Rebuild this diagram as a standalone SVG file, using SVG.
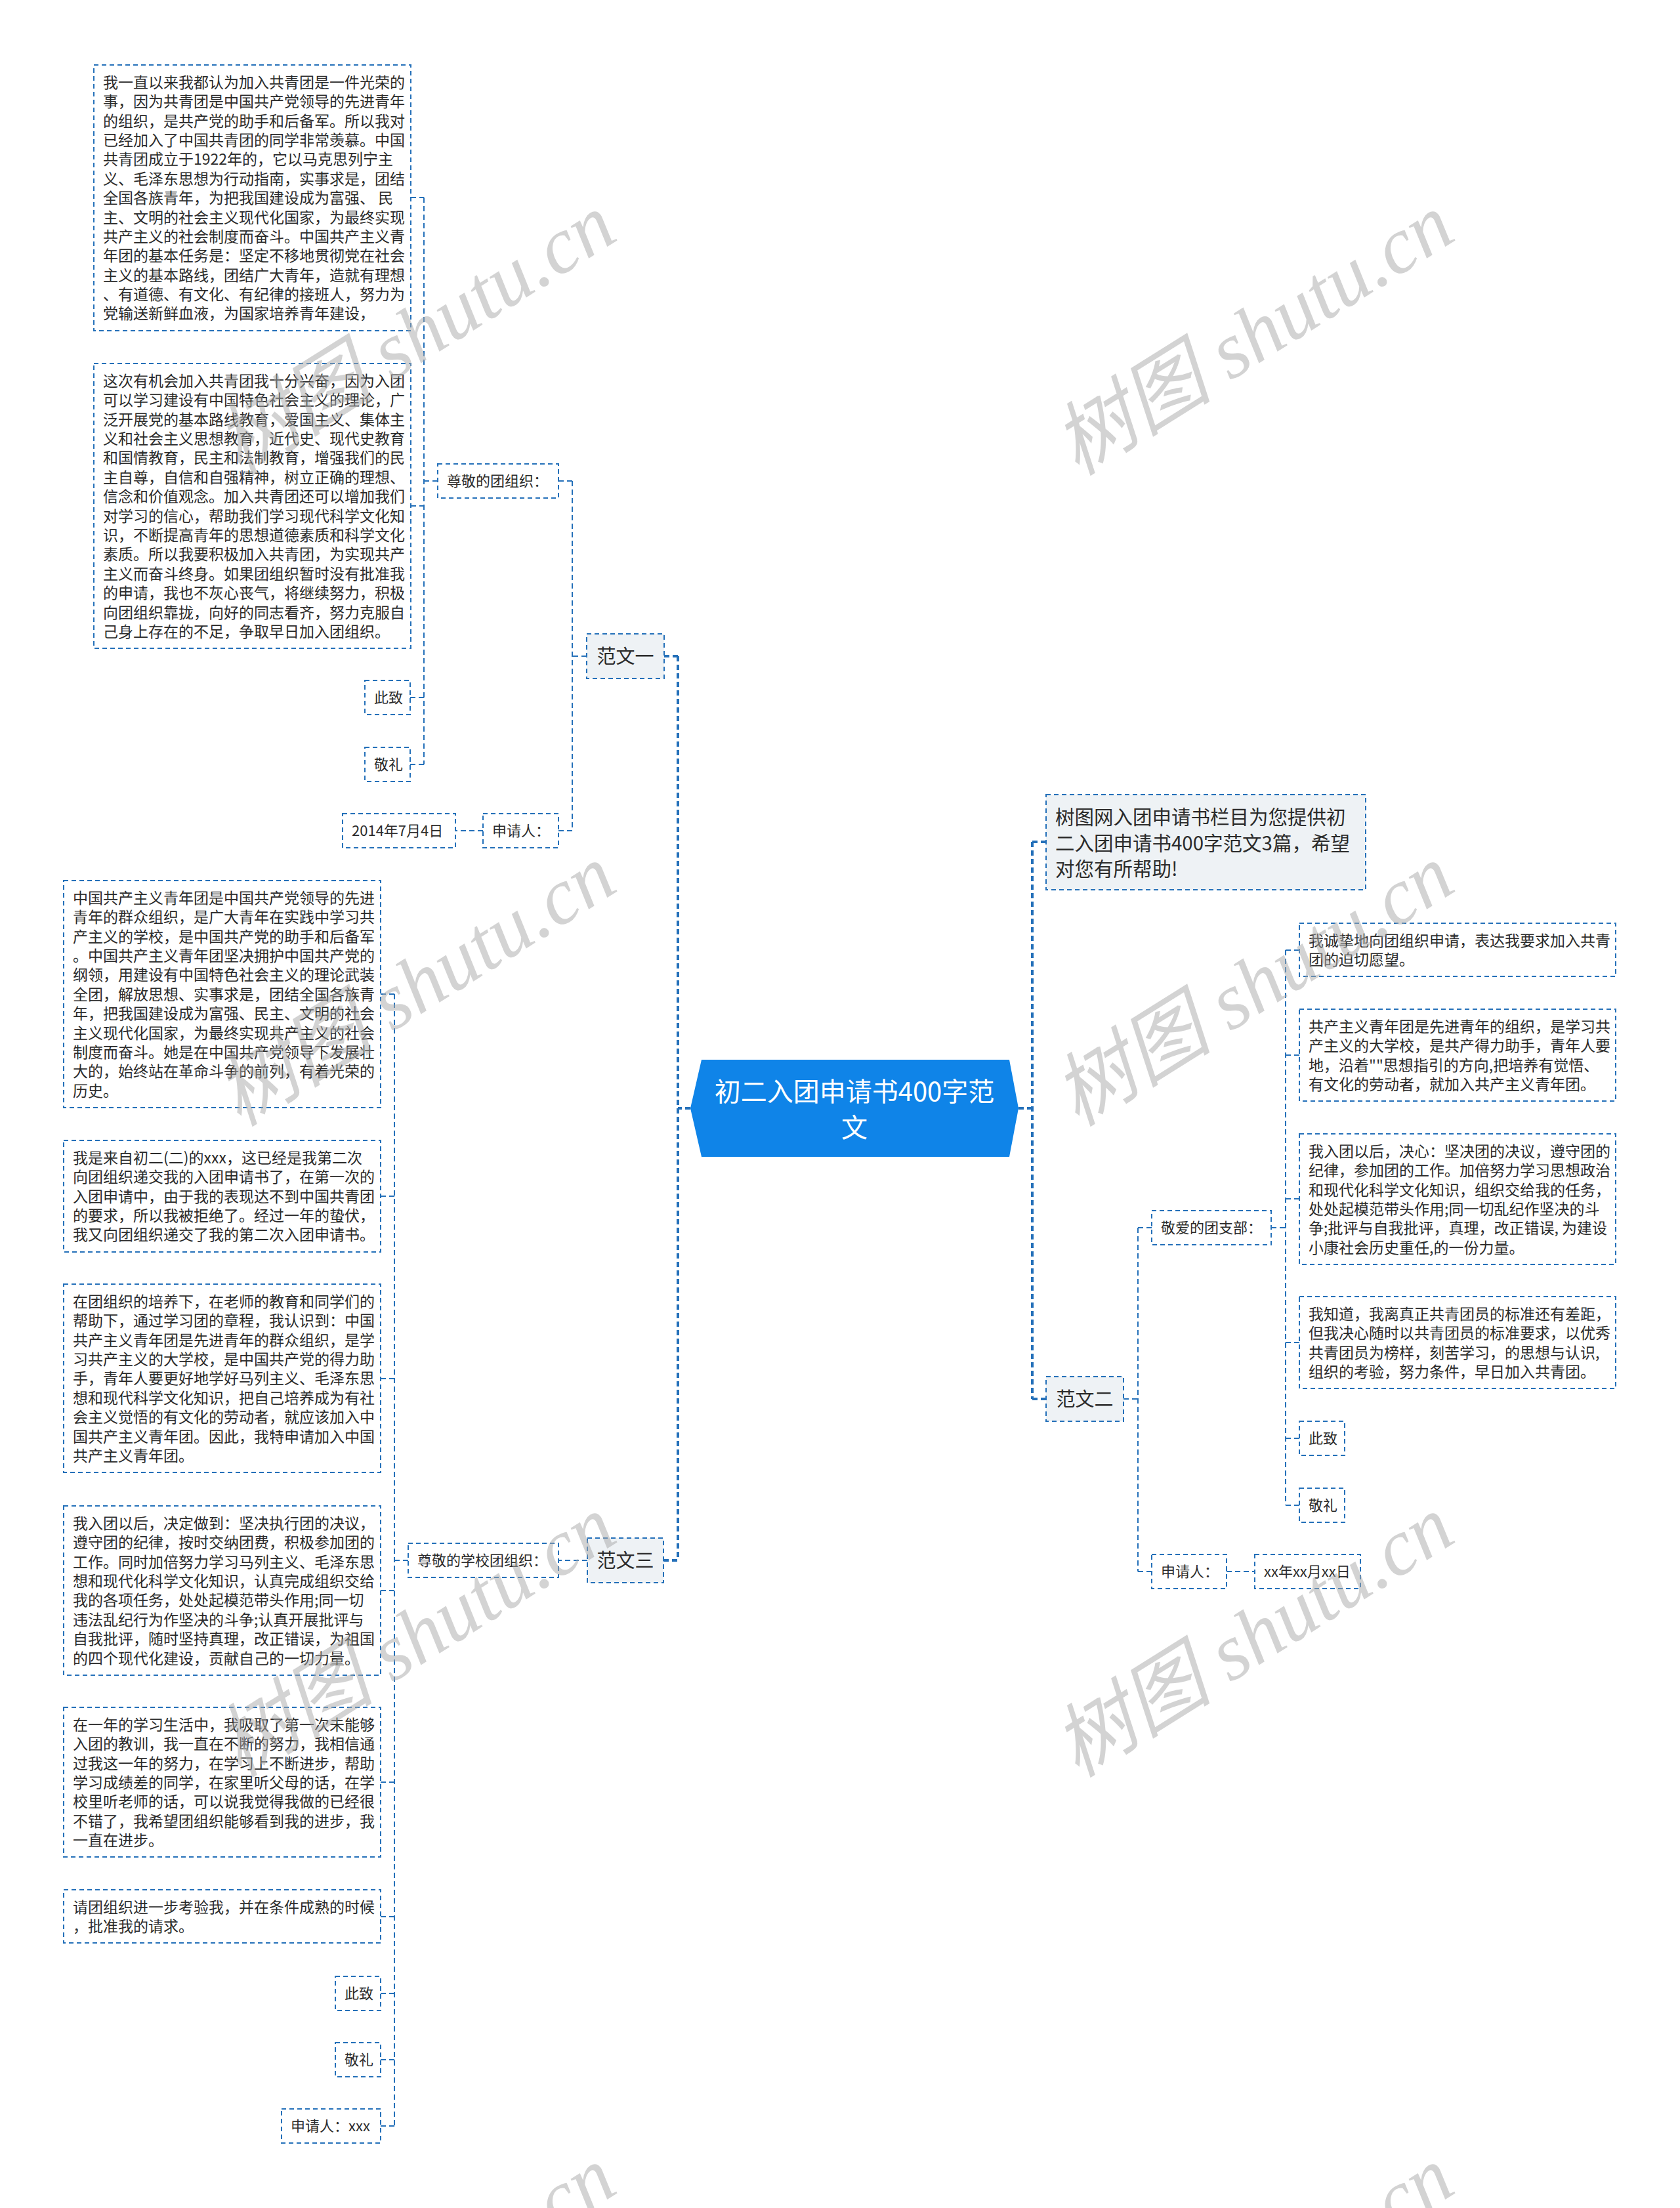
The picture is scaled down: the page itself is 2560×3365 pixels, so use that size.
<svg xmlns="http://www.w3.org/2000/svg" width="2560" height="3365" viewBox="0 0 2560 3365">
<style>
.bx{fill:none;stroke:#2470b9;stroke-width:2;stroke-dasharray:7 5}
.sb{fill:#eef2f5;stroke:#2470b9;stroke-width:2;stroke-dasharray:7 5}
.t{font-family:"Noto Sans CJK SC","Noto Sans",sans-serif;font-size:23px;fill:#2b2b2b}
.s{font-size:22px}
.m{font-size:29px}
.c{font-family:"Noto Sans CJK SC","Noto Sans",sans-serif;font-size:40px;fill:#ffffff;text-anchor:middle}
.ln{fill:none;stroke:#2470b9;stroke-width:2;stroke-dasharray:8 5}
.mn{fill:none;stroke:#2470b9;stroke-width:4;stroke-dasharray:8 5}
.wm{font-family:"Liberation Serif","Noto Sans CJK SC",serif;font-style:italic;font-size:122px;fill:#a8a8a8;opacity:0.5;text-anchor:middle}
</style>
<rect width="2560" height="3365" fill="#ffffff"/>
<g id="connectors">
<path class="mn" d="M1033 1000V2378M1052 1689H1033M1012 1000H1033M1011 2378H1033"/>
<path class="mn" d="M1573 1283V2132M1552 1689H1573M1573 1283H1594M1573 2132H1594"/>
<path class="ln" d="M872 733V1266M894 1000H872M851 733H872M851 1266H872"/>
<path class="ln" d="M646 301V1165M667 733H646M626 301H646M626 771H646M625 1063H646M625 1165H646"/>
<path class="ln" d="M736 1266H694"/>
<path class="ln" d="M895 2378H851"/>
<path class="ln" d="M601 1515V3240M622 2378H601M580 1515H601M580 1823H601M580 2101H601M580 2424H601M580 2716H601M580 2921H601M580 3038H601M580 3139H601M580 3240H601"/>
<path class="ln" d="M1734 1871V2395M1712 2132H1734M1755 1871H1734M1755 2395H1734"/>
<path class="ln" d="M1959 1448V2294M1937 1871H1959M1980 1448H1959M1980 1608H1959M1980 1827H1959M1980 2046H1959M1980 2192H1959M1980 2294H1959"/>
<path class="ln" d="M1869 2395H1912"/>
</g>
<g id="center">
<polygon points="1069,1615 1538,1615 1552,1689 1538,1763 1069,1763 1052,1689" fill="#0f84e8"/>
<text class="c"><tspan x="1302" y="1678">初二入团申请书400字范</tspan><tspan x="1302" y="1733">文</tspan></text>
</g>
<g id="intro">
<rect class="sb" x="1594" y="1211" width="487" height="145"/>
<text class="t" style="font-size:29.5px"><tspan x="1608" y="1256">树图网入团申请书栏目为您提供初</tspan><tspan x="1608" y="1296">二入团申请书400字范文3篇，希望</tspan><tspan x="1608" y="1335">对您有所帮助!</tspan></text>
</g>
<g id="fanwen1">
<rect class="sb" x="894" y="966" width="118" height="68"/>
<text class="t m" x="953" y="1011" text-anchor="middle">范文一</text>
</g>
<g id="zunjing1">
<rect class="bx" x="667" y="707" width="184" height="52"/>
<text class="t s" x="681" y="741">尊敬的团组织：</text>
</g>
<g id="f1p1">
<rect class="bx" x="143" y="99" width="483" height="405"/>
<text class="t"><tspan x="157" y="133.7">我一直以来我都认为加入共青团是一件光荣的</tspan><tspan x="157" dy="29.4">事，因为共青团是中国共产党领导的先进青年</tspan><tspan x="157" dy="29.4">的组织，是共产党的助手和后备军。所以我对</tspan><tspan x="157" dy="29.4">已经加入了中国共青团的同学非常羡慕。中国</tspan><tspan x="157" dy="29.4">共青团成立于1922年的，它以马克思列宁主</tspan><tspan x="157" dy="29.4">义、毛泽东思想为行动指南，实事求是，团结</tspan><tspan x="157" dy="29.4">全国各族青年，为把我国建设成为富强、 民</tspan><tspan x="157" dy="29.4">主、文明的社会主义现代化国家，为最终实现</tspan><tspan x="157" dy="29.4">共产主义的社会制度而奋斗。中国共产主义青</tspan><tspan x="157" dy="29.4">年团的基本任务是：坚定不移地贯彻党在社会</tspan><tspan x="157" dy="29.4">主义的基本路线，团结广大青年，造就有理想</tspan><tspan x="157" dy="29.4">、有道德、有文化、有纪律的接班人，努力为</tspan><tspan x="157" dy="29.4">党输送新鲜血液，为国家培养青年建设，</tspan></text>
</g>
<g id="f1p2">
<rect class="bx" x="143" y="554" width="483" height="434"/>
<text class="t"><tspan x="157" y="588.7">这次有机会加入共青团我十分兴奋，因为入团</tspan><tspan x="157" dy="29.4">可以学习建设有中国特色社会主义的理论，广</tspan><tspan x="157" dy="29.4">泛开展党的基本路线教育，爱国主义、集体主</tspan><tspan x="157" dy="29.4">义和社会主义思想教育，近代史、现代史教育</tspan><tspan x="157" dy="29.4">和国情教育，民主和法制教育，增强我们的民</tspan><tspan x="157" dy="29.4">主自尊，自信和自强精神，树立正确的理想、</tspan><tspan x="157" dy="29.4">信念和价值观念。加入共青团还可以增加我们</tspan><tspan x="157" dy="29.4">对学习的信心，帮助我们学习现代科学文化知</tspan><tspan x="157" dy="29.4">识，不断提高青年的思想道德素质和科学文化</tspan><tspan x="157" dy="29.4">素质。所以我要积极加入共青团，为实现共产</tspan><tspan x="157" dy="29.4">主义而奋斗终身。如果团组织暂时没有批准我</tspan><tspan x="157" dy="29.4">的申请，我也不灰心丧气，将继续努力，积极</tspan><tspan x="157" dy="29.4">向团组织靠拢，向好的同志看齐，努力克服自</tspan><tspan x="157" dy="29.4">己身上存在的不足，争取早日加入团组织。</tspan></text>
</g>
<g id="f1cz">
<rect class="bx" x="556" y="1037" width="69" height="52"/>
<text class="t s" x="570" y="1071.4">此致</text>
</g>
<g id="f1jl">
<rect class="bx" x="556" y="1139" width="69" height="52"/>
<text class="t s" x="570" y="1173.4">敬礼</text>
</g>
<g id="f1sqr">
<rect class="bx" x="736" y="1240" width="115" height="52"/>
<text class="t s" x="750" y="1274.4">申请人：</text>
</g>
<g id="f1date">
<rect class="bx" x="522" y="1240" width="172" height="52"/>
<text class="t s" x="536" y="1274.4">2014年7月4日</text>
</g>
<g id="fanwen3">
<rect class="sb" x="895" y="2344" width="116" height="68"/>
<text class="t m" x="953" y="2389" text-anchor="middle">范文三</text>
</g>
<g id="zunjing3">
<rect class="bx" x="622" y="2352" width="229" height="52"/>
<text class="t s" x="636" y="2386.4">尊敬的学校团组织：</text>
</g>
<g id="f3p1">
<rect class="bx" x="97" y="1342" width="483" height="346"/>
<text class="t"><tspan x="111" y="1376.7">中国共产主义青年团是中国共产党领导的先进</tspan><tspan x="111" dy="29.4">青年的群众组织，是广大青年在实践中学习共</tspan><tspan x="111" dy="29.4">产主义的学校，是中国共产党的助手和后备军</tspan><tspan x="111" dy="29.4">。中国共产主义青年团坚决拥护中国共产党的</tspan><tspan x="111" dy="29.4">纲领，用建设有中国特色社会主义的理论武装</tspan><tspan x="111" dy="29.4">全团，解放思想、实事求是，团结全国各族青</tspan><tspan x="111" dy="29.4">年，把我国建设成为富强、民主、文明的社会</tspan><tspan x="111" dy="29.4">主义现代化国家，为最终实现共产主义的社会</tspan><tspan x="111" dy="29.4">制度而奋斗。她是在中国共产党领导下发展壮</tspan><tspan x="111" dy="29.4">大的，始终站在革命斗争的前列，有着光荣的</tspan><tspan x="111" dy="29.4">历史。</tspan></text>
</g>
<g id="f3p2">
<rect class="bx" x="97" y="1738" width="483" height="170"/>
<text class="t"><tspan x="111" y="1772.7">我是来自初二(二)的xxx，这已经是我第二次</tspan><tspan x="111" dy="29.4">向团组织递交我的入团申请书了，在第一次的</tspan><tspan x="111" dy="29.4">入团申请中，由于我的表现达不到中国共青团</tspan><tspan x="111" dy="29.4">的要求，所以我被拒绝了。经过一年的蛰伏，</tspan><tspan x="111" dy="29.4">我又向团组织递交了我的第二次入团申请书。</tspan></text>
</g>
<g id="f3p3">
<rect class="bx" x="97" y="1957" width="483" height="287"/>
<text class="t"><tspan x="111" y="1991.7">在团组织的培养下，在老师的教育和同学们的</tspan><tspan x="111" dy="29.4">帮助下，通过学习团的章程，我认识到：中国</tspan><tspan x="111" dy="29.4">共产主义青年团是先进青年的群众组织，是学</tspan><tspan x="111" dy="29.4">习共产主义的大学校，是中国共产党的得力助</tspan><tspan x="111" dy="29.4">手，青年人要更好地学好马列主义、毛泽东思</tspan><tspan x="111" dy="29.4">想和现代科学文化知识，把自己培养成为有社</tspan><tspan x="111" dy="29.4">会主义觉悟的有文化的劳动者，就应该加入中</tspan><tspan x="111" dy="29.4">国共产主义青年团。因此，我特申请加入中国</tspan><tspan x="111" dy="29.4">共产主义青年团。</tspan></text>
</g>
<g id="f3p4">
<rect class="bx" x="97" y="2295" width="483" height="258"/>
<text class="t"><tspan x="111" y="2329.7">我入团以后，决定做到：坚决执行团的决议，</tspan><tspan x="111" dy="29.4">遵守团的纪律，按时交纳团费，积极参加团的</tspan><tspan x="111" dy="29.4">工作。同时加倍努力学习马列主义、毛泽东思</tspan><tspan x="111" dy="29.4">想和现代化科学文化知识，认真完成组织交给</tspan><tspan x="111" dy="29.4">我的各项任务，处处起模范带头作用;同一切</tspan><tspan x="111" dy="29.4">违法乱纪行为作坚决的斗争;认真开展批评与</tspan><tspan x="111" dy="29.4">自我批评，随时坚持真理，改正错误，为祖国</tspan><tspan x="111" dy="29.4">的四个现代化建设，贡献自己的一切力量。</tspan></text>
</g>
<g id="f3p5">
<rect class="bx" x="97" y="2602" width="483" height="228"/>
<text class="t"><tspan x="111" y="2636.7">在一年的学习生活中，我吸取了第一次未能够</tspan><tspan x="111" dy="29.4">入团的教训，我一直在不断的努力，我相信通</tspan><tspan x="111" dy="29.4">过我这一年的努力，在学习上不断进步，帮助</tspan><tspan x="111" dy="29.4">学习成绩差的同学，在家里听父母的话，在学</tspan><tspan x="111" dy="29.4">校里听老师的话，可以说我觉得我做的已经很</tspan><tspan x="111" dy="29.4">不错了，我希望团组织能够看到我的进步，我</tspan><tspan x="111" dy="29.4">一直在进步。</tspan></text>
</g>
<g id="f3p6">
<rect class="bx" x="97" y="2880" width="483" height="81"/>
<text class="t"><tspan x="111" y="2914.7">请团组织进一步考验我，并在条件成熟的时候</tspan><tspan x="111" dy="29.4">，批准我的请求。</tspan></text>
</g>
<g id="f3cz">
<rect class="bx" x="511" y="3012" width="69" height="52"/>
<text class="t s" x="525" y="3046.4">此致</text>
</g>
<g id="f3jl">
<rect class="bx" x="511" y="3113" width="69" height="52"/>
<text class="t s" x="525" y="3147.4">敬礼</text>
</g>
<g id="f3sqr">
<rect class="bx" x="429" y="3214" width="151" height="52"/>
<text class="t s" x="443" y="3248.4">申请人：xxx</text>
</g>
<g id="fanwen2">
<rect class="sb" x="1594" y="2098" width="118" height="68"/>
<text class="t m" x="1653" y="2143" text-anchor="middle">范文二</text>
</g>
<g id="jingai">
<rect class="bx" x="1755" y="1845" width="182" height="52"/>
<text class="t s" x="1769" y="1879.4">敬爱的团支部：</text>
</g>
<g id="f2p1">
<rect class="bx" x="1980" y="1407" width="482" height="81"/>
<text class="t"><tspan x="1994" y="1441.7">我诚挚地向团组织申请，表达我要求加入共青</tspan><tspan x="1994" dy="29.4">团的迫切愿望。</tspan></text>
</g>
<g id="f2p2">
<rect class="bx" x="1980" y="1538" width="482" height="140"/>
<text class="t"><tspan x="1994" y="1572.7">共产主义青年团是先进青年的组织，是学习共</tspan><tspan x="1994" dy="29.4">产主义的大学校，是共产得力助手，青年人要</tspan><tspan x="1994" dy="29.4">地，沿着""思想指引的方向,把培养有觉悟、</tspan><tspan x="1994" dy="29.4">有文化的劳动者，就加入共产主义青年团。</tspan></text>
</g>
<g id="f2p3">
<rect class="bx" x="1980" y="1728" width="482" height="199"/>
<text class="t"><tspan x="1994" y="1762.7">我入团以后，决心：坚决团的决议，遵守团的</tspan><tspan x="1994" dy="29.4">纪律，参加团的工作。加倍努力学习思想政治</tspan><tspan x="1994" dy="29.4">和现代化科学文化知识，组织交给我的任务，</tspan><tspan x="1994" dy="29.4">处处起模范带头作用;同一切乱纪作坚决的斗</tspan><tspan x="1994" dy="29.4">争;批评与自我批评，真理，改正错误, 为建设</tspan><tspan x="1994" dy="29.4">小康社会历史重任,的一份力量。</tspan></text>
</g>
<g id="f2p4">
<rect class="bx" x="1980" y="1976" width="482" height="140"/>
<text class="t"><tspan x="1994" y="2010.7">我知道，我离真正共青团员的标准还有差距，</tspan><tspan x="1994" dy="29.4">但我决心随时以共青团员的标准要求，以优秀</tspan><tspan x="1994" dy="29.4">共青团员为榜样，刻苦学习，的思想与认识,</tspan><tspan x="1994" dy="29.4">组织的考验，努力条件，早日加入共青团。</tspan></text>
</g>
<g id="f2cz">
<rect class="bx" x="1980" y="2166" width="69" height="52"/>
<text class="t s" x="1994" y="2200.4">此致</text>
</g>
<g id="f2jl">
<rect class="bx" x="1980" y="2268" width="69" height="52"/>
<text class="t s" x="1994" y="2302.4">敬礼</text>
</g>
<g id="f2sqr">
<rect class="bx" x="1755" y="2369" width="114" height="52"/>
<text class="t s" x="1769" y="2403.4">申请人：</text>
</g>
<g id="f2date">
<rect class="bx" x="1912" y="2369" width="161" height="52"/>
<text class="t s" x="1926" y="2403.4">xx年xx月xx日</text>
</g>
<g id="watermarks">
<text class="wm" transform="translate(655,545) rotate(-32)">树图 shutu.cn</text>
<text class="wm" transform="translate(1932,545) rotate(-32)">树图 shutu.cn</text>
<text class="wm" transform="translate(655,1537) rotate(-32)">树图 shutu.cn</text>
<text class="wm" transform="translate(1932,1537) rotate(-32)">树图 shutu.cn</text>
<text class="wm" transform="translate(655,2529) rotate(-32)">树图 shutu.cn</text>
<text class="wm" transform="translate(1932,2529) rotate(-32)">树图 shutu.cn</text>
<text class="wm" transform="translate(655,3521) rotate(-32)">树图 shutu.cn</text>
<text class="wm" transform="translate(1932,3521) rotate(-32)">树图 shutu.cn</text>
</g>
</svg>
